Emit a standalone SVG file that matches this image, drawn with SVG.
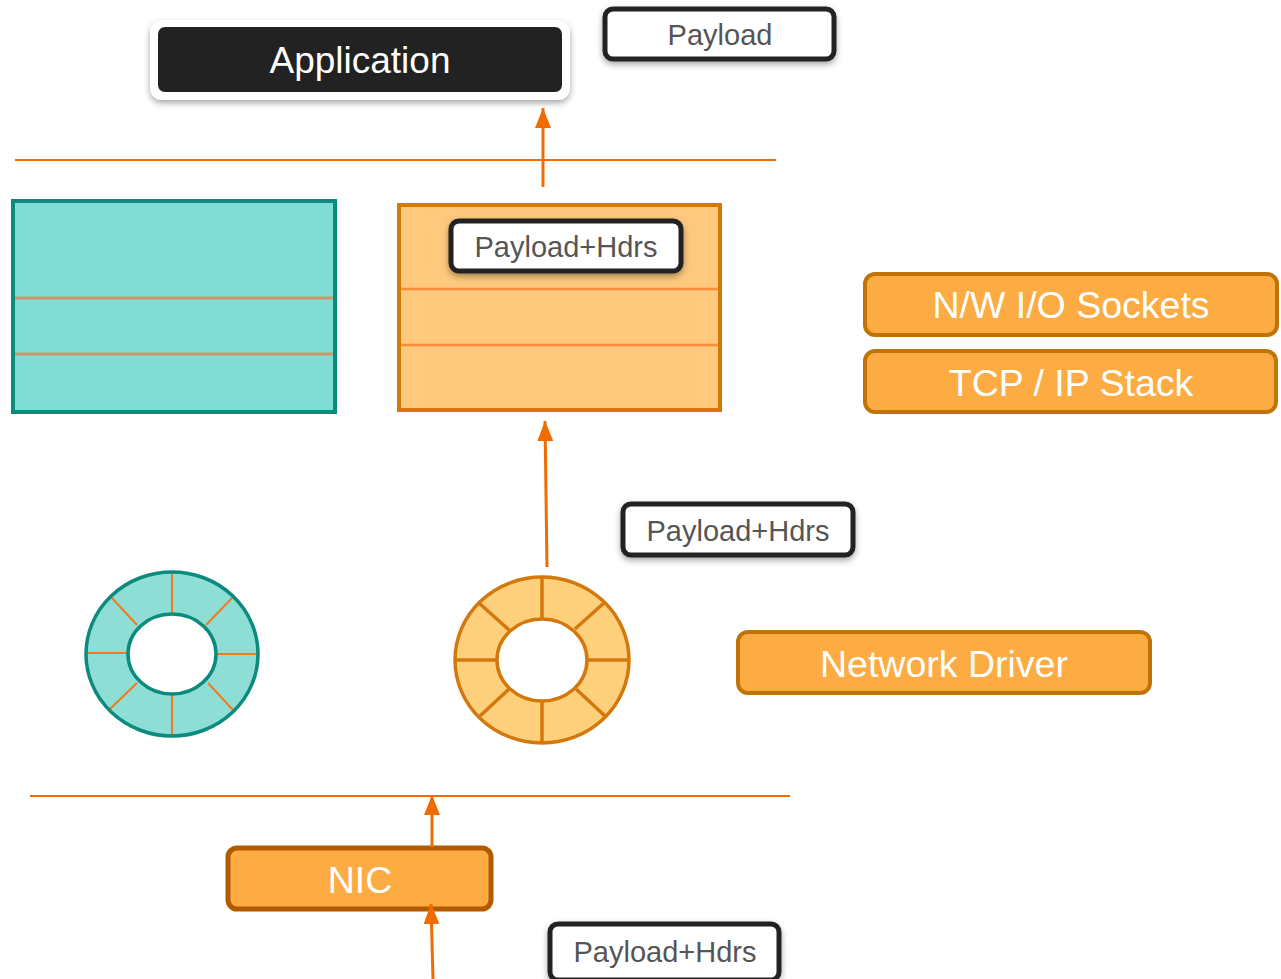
<svg xmlns="http://www.w3.org/2000/svg" width="1281" height="979" viewBox="0 0 1281 979">
  <defs>
    <filter id="shadow" x="-10%" y="-30%" width="120%" height="170%">
      <feDropShadow dx="0" dy="3" stdDeviation="3" flood-color="#000" flood-opacity="0.35"/>
    </filter>
    <marker id="arrow" viewBox="0 0 20 16" refX="20" refY="8" markerWidth="20" markerHeight="16" markerUnits="userSpaceOnUse" orient="auto">
      <path d="M0,0 L20,8 L0,16 Z" fill="#f06c00"/>
    </marker>
    <style>
      .label { font-family: "Liberation Sans", Arial, sans-serif; text-anchor: middle; }
      .tag rect { fill: #ffffff; stroke: #222222; stroke-width: 5; }
      .tag text { font-size: 29px; fill: #555555; }
      .layer rect { fill: #fdab43; stroke: #c07306; stroke-width: 4; }
      .layer text { font-size: 37.5px; fill: #ffffff; }
      .divider { stroke: #f06c00; stroke-width: 2; }
      .flow { stroke: #f06c00; stroke-width: 3; fill: none; }
    </style>
  </defs>

  <rect width="1281" height="979" fill="#ffffff"/>

  <!-- layer dividers -->
  <g id="dividers">
    <line class="divider" x1="15" y1="160" x2="776" y2="160"/>
    <line class="divider" x1="30" y1="796" x2="790" y2="796"/>
  </g>

  <!-- application -->
  <g id="application">
    <rect x="150" y="20" width="420" height="80" rx="12" fill="#ffffff" filter="url(#shadow)"/>
    <rect x="158" y="27" width="404" height="65" rx="7" fill="#222222"/>
    <text class="label" x="360" y="73" font-size="37" fill="#ffffff">Application</text>
  </g>

  <g id="payload-top" class="tag label">
    <rect x="605" y="9" width="229" height="50" rx="8" filter="url(#shadow)"/>
    <text x="720" y="45">Payload</text>
  </g>

  <!-- socket buffers -->
  <g id="buffer-idle">
    <rect x="13" y="201" width="322" height="211" fill="#7fddd6" stroke="#0b8a7e" stroke-width="4"/>
    <line x1="15" y1="298" x2="333" y2="298" stroke="#c9956a" stroke-width="3"/>
    <line x1="15" y1="354" x2="333" y2="354" stroke="#c9956a" stroke-width="3"/>
  </g>

  <g id="buffer-active">
    <rect x="399" y="205" width="321" height="205" fill="#fec97d" stroke="#d4780c" stroke-width="4"/>
    <line x1="401" y1="289" x2="718" y2="289" stroke="#fb8c3a" stroke-width="2.5"/>
    <line x1="401" y1="345" x2="718" y2="345" stroke="#fb8c3a" stroke-width="2.5"/>
  </g>

  <g id="payload-socket" class="tag label">
    <rect x="451" y="221" width="230" height="50" rx="8" filter="url(#shadow)"/>
    <text x="566" y="257">Payload+Hdrs</text>
  </g>

  <!-- stack layers -->
  <g id="sockets" class="layer label">
    <rect x="865" y="274" width="412" height="61" rx="10"/>
    <text x="1071" y="318">N/W I/O Sockets</text>
  </g>
  <g id="tcpip" class="layer label">
    <rect x="865" y="351" width="411" height="61" rx="10"/>
    <text x="1071" y="396">TCP / IP Stack</text>
  </g>

  <g id="payload-driver" class="tag label">
    <rect x="623" y="504" width="230" height="51" rx="8" filter="url(#shadow)"/>
    <text x="738" y="541">Payload+Hdrs</text>
  </g>

  <!-- ring buffers -->
  <g id="ring-idle">
    <path d="M86,654 a86,82 0 1,0 172,0 a86,82 0 1,0 -172,0 Z M128,654 a44,40 0 1,1 88,0 a44,40 0 1,1 -88,0 Z" fill="#8fded6" fill-rule="evenodd"/>
    <g stroke="#f07a1c" stroke-width="2">
      <line x1="172" y1="573" x2="172" y2="614"/>
      <line x1="172" y1="694" x2="172" y2="735"/>
      <line x1="87" y1="653" x2="128" y2="653"/>
      <line x1="216" y1="654" x2="257" y2="654"/>
      <line x1="111" y1="597" x2="137" y2="625"/>
      <line x1="233" y1="597" x2="206" y2="625"/>
      <line x1="110" y1="709" x2="137" y2="683"/>
      <line x1="233" y1="710" x2="208" y2="683"/>
    </g>
    <ellipse cx="172" cy="654" rx="86" ry="82" fill="none" stroke="#0b8a7e" stroke-width="3.5"/>
    <ellipse cx="172" cy="654" rx="44" ry="40" fill="none" stroke="#0b8a7e" stroke-width="3.5"/>
  </g>

  <g id="ring-active">
    <path d="M455,660 a87,83 0 1,0 174,0 a87,83 0 1,0 -174,0 Z M497,660 a45,41 0 1,1 90,0 a45,41 0 1,1 -90,0 Z" fill="#fed07c" fill-rule="evenodd"/>
    <g stroke="#d4780c" stroke-width="3.5">
      <line x1="542" y1="578" x2="542" y2="619"/>
      <line x1="542" y1="701" x2="542" y2="742"/>
      <line x1="456" y1="660" x2="497" y2="660"/>
      <line x1="587" y1="660" x2="628" y2="660"/>
      <line x1="479" y1="603" x2="509" y2="630"/>
      <line x1="605" y1="602" x2="575" y2="629"/>
      <line x1="480" y1="716" x2="509" y2="689"/>
      <line x1="605" y1="716" x2="576" y2="689"/>
    </g>
    <ellipse cx="542" cy="660" rx="87" ry="83" fill="none" stroke="#d4780c" stroke-width="3.5"/>
    <ellipse cx="542" cy="660" rx="45" ry="41" fill="none" stroke="#d4780c" stroke-width="3.5"/>
  </g>

  <g id="driver" class="layer label">
    <rect x="738" y="632" width="412" height="61" rx="10"/>
    <text x="944" y="677">Network Driver</text>
  </g>

  <!-- NIC -->
  <g id="nic" class="layer label">
    <rect x="228" y="848" width="263" height="61" rx="9" style="stroke:#b35a00;stroke-width:5"/>
    <text x="360" y="893">NIC</text>
  </g>

  <g id="payload-wire" class="tag label">
    <rect x="550" y="924" width="229" height="56" rx="8" filter="url(#shadow)"/>
    <text x="665" y="962">Payload+Hdrs</text>
  </g>

  <!-- data path -->
  <g id="connectors">
    <line class="flow" x1="543" y1="187" x2="543" y2="108" marker-end="url(#arrow)"/>
    <line class="flow" x1="547" y1="567" x2="545" y2="421" marker-end="url(#arrow)"/>
    <line class="flow" x1="432" y1="847" x2="432" y2="795" marker-end="url(#arrow)"/>
    <line class="flow" x1="433" y1="979" x2="431" y2="904" marker-end="url(#arrow)"/>
  </g>
</svg>
